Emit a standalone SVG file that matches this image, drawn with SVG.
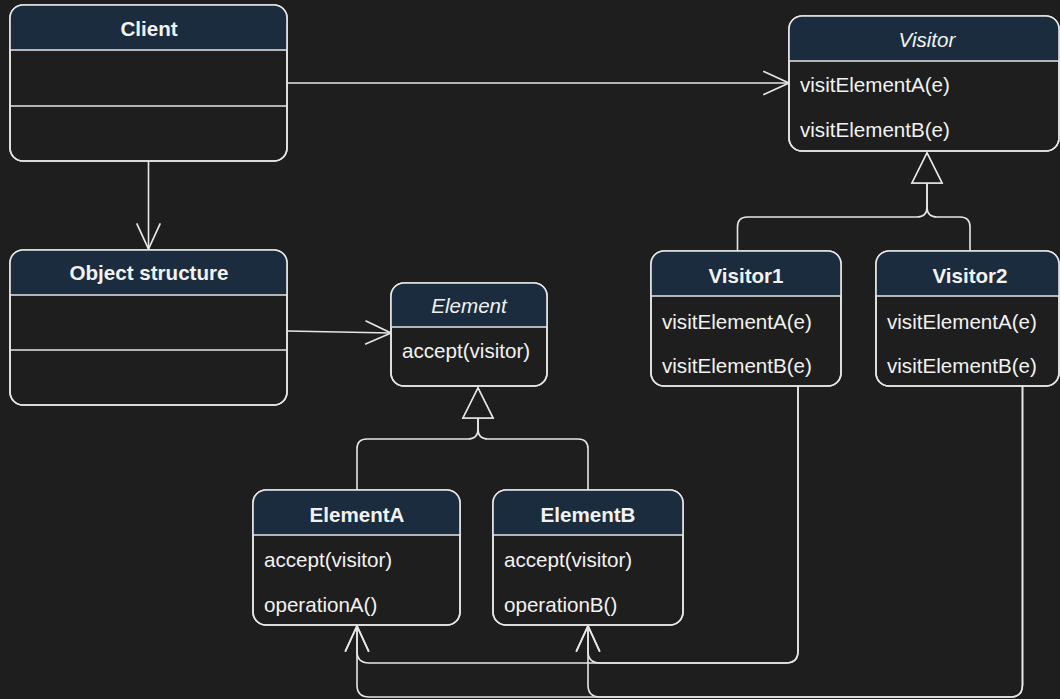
<svg xmlns="http://www.w3.org/2000/svg" width="1060" height="699" viewBox="0 0 1060 699">
<style>
.box{fill:#1e1e1e;stroke:#e6e6e6;stroke-width:1.6}
.outline{fill:none;stroke:#e6e6e6;stroke-width:1.6}
.hdr{fill:#1a2c3d}
.sep{stroke:#e6e6e6;stroke-width:1.6}
.t{font-family:"Liberation Sans",Arial,sans-serif;font-size:20.6px;fill:#f2f2f2}
.b{font-weight:bold;text-anchor:middle}
.i{font-style:italic;text-anchor:middle}
.c{fill:none;stroke:#e6e6e6;stroke-width:1.6}
</style>
<defs>
<marker id="open" markerUnits="userSpaceOnUse" markerWidth="30" markerHeight="30" viewBox="-26 -13 28 26" refX="0" refY="0" orient="auto">
<path d="M-24,-11 L0,0 L-24,11" fill="none" stroke="#e6e6e6" stroke-width="1.6"/>
</marker>
<marker id="tri" markerUnits="userSpaceOnUse" markerWidth="36" markerHeight="36" viewBox="-2 -17 36 34" refX="0" refY="0" orient="auto">
<path d="M0,-15 L30,0 L0,15 Z" fill="#1e1e1e" stroke="#e6e6e6" stroke-width="1.6"/>
</marker>
</defs>
<rect width="1060" height="699" fill="#1e1e1e"/>

<g id="connectors">
<path class="c" d="M287,83 H789" marker-end="url(#open)"/>
<path class="c" d="M148.5,161 V249" marker-end="url(#open)"/>
<path class="c" d="M287,331 L391,333" marker-end="url(#open)"/>
<path class="c" d="M737.5,251 V227 Q737.5,217 747.5,217 H917 Q927,217 927,207 V183" marker-end="url(#tri)"/>
<path class="c" d="M970,251 V227 Q970,217 960,217 H937 Q927,217 927,207 V183" marker-end="url(#tri)"/>
<path class="c" d="M357,490 V449 Q357,439 367,439 H468 Q478,439 478,429 V418" marker-end="url(#tri)"/>
<path class="c" d="M588,490 V449 Q588,439 578,439 H488 Q478,439 478,429 V418" marker-end="url(#tri)"/>
<path class="c" d="M798,386 V651 Q798,663 786,663 H369 Q357,663 357,651 V626" marker-end="url(#open)"/>
<path class="c" d="M798,386 V651 Q798,663 786,663 H600 Q588,663 588,651 V626" marker-end="url(#open)"/>
<path class="c" d="M1022.5,386 V685 Q1022.5,697 1010.5,697 H369 Q357,697 357,685 V626" marker-end="url(#open)"/>
<path class="c" d="M1022.5,386 V685 Q1022.5,697 1010.5,697 H600 Q588,697 588,685 V626" marker-end="url(#open)"/>
</g>

<g id="client">
<rect class="box" x="10" y="5" width="277" height="156" rx="13"/>
<path class="hdr" d="M10,50 V18 A13,13 0 0 1 23,5 H274 A13,13 0 0 1 287,18 V50 Z"/>
<line class="sep" x1="10" y1="50" x2="287" y2="50"/>
<line class="sep" x1="10" y1="106" x2="287" y2="106"/>
<rect class="outline" x="10" y="5" width="277" height="156" rx="13"/>
<text class="t b" x="149" y="36">Client</text>
</g>

<g id="object-structure">
<rect class="box" x="10" y="250" width="277" height="155" rx="13"/>
<path class="hdr" d="M10,295 V263 A13,13 0 0 1 23,250 H274 A13,13 0 0 1 287,263 V295 Z"/>
<line class="sep" x1="10" y1="295" x2="287" y2="295"/>
<line class="sep" x1="10" y1="350" x2="287" y2="350"/>
<rect class="outline" x="10" y="250" width="277" height="155" rx="13"/>
<text class="t b" x="149" y="280">Object structure</text>
</g>

<g id="visitor">
<rect class="box" x="789" y="16" width="270" height="135" rx="13"/>
<path class="hdr" d="M789,61 V29 A13,13 0 0 1 802,16 H1046 A13,13 0 0 1 1059,29 V61 Z"/>
<line class="sep" x1="789" y1="61" x2="1059" y2="61"/>
<rect class="outline" x="789" y="16" width="270" height="135" rx="13"/>
<text class="t i" x="927" y="47">Visitor</text>
<text class="t" x="800" y="92">visitElementA(e)</text>
<text class="t" x="800" y="137">visitElementB(e)</text>
</g>

<g id="visitor1">
<rect class="box" x="651" y="251" width="190" height="135" rx="13"/>
<path class="hdr" d="M651,296 V264 A13,13 0 0 1 664,251 H828 A13,13 0 0 1 841,264 V296 Z"/>
<line class="sep" x1="651" y1="296" x2="841" y2="296"/>
<rect class="outline" x="651" y="251" width="190" height="135" rx="13"/>
<text class="t b" x="746" y="283">Visitor1</text>
<text class="t" x="662" y="329">visitElementA(e)</text>
<text class="t" x="662" y="373">visitElementB(e)</text>
</g>

<g id="visitor2">
<rect class="box" x="876" y="251" width="183" height="135" rx="13"/>
<path class="hdr" d="M876,296 V264 A13,13 0 0 1 889,251 H1046 A13,13 0 0 1 1059,264 V296 Z"/>
<line class="sep" x1="876" y1="296" x2="1059" y2="296"/>
<rect class="outline" x="876" y="251" width="183" height="135" rx="13"/>
<text class="t b" x="970" y="283">Visitor2</text>
<text class="t" x="887" y="329">visitElementA(e)</text>
<text class="t" x="887" y="373">visitElementB(e)</text>
</g>

<g id="element">
<rect class="box" x="391" y="283" width="156" height="103" rx="13"/>
<path class="hdr" d="M391,327 V296 A13,13 0 0 1 404,283 H534 A13,13 0 0 1 547,296 V327 Z"/>
<line class="sep" x1="391" y1="327" x2="547" y2="327"/>
<rect class="outline" x="391" y="283" width="156" height="103" rx="13"/>
<text class="t i" x="469" y="313">Element</text>
<text class="t" x="402" y="358">accept(visitor)</text>
</g>

<g id="elementA">
<rect class="box" x="253" y="490" width="207" height="135" rx="13"/>
<path class="hdr" d="M253,535 V503 A13,13 0 0 1 266,490 H447 A13,13 0 0 1 460,503 V535 Z"/>
<line class="sep" x1="253" y1="535" x2="460" y2="535"/>
<rect class="outline" x="253" y="490" width="207" height="135" rx="13"/>
<text class="t b" x="357" y="522">ElementA</text>
<text class="t" x="264" y="567">accept(visitor)</text>
<text class="t" x="264" y="612">operationA()</text>
</g>

<g id="elementB">
<rect class="box" x="493" y="490" width="190" height="135" rx="13"/>
<path class="hdr" d="M493,535 V503 A13,13 0 0 1 506,490 H670 A13,13 0 0 1 683,503 V535 Z"/>
<line class="sep" x1="493" y1="535" x2="683" y2="535"/>
<rect class="outline" x="493" y="490" width="190" height="135" rx="13"/>
<text class="t b" x="588" y="522">ElementB</text>
<text class="t" x="504" y="567">accept(visitor)</text>
<text class="t" x="504" y="612">operationB()</text>
</g>
</svg>
